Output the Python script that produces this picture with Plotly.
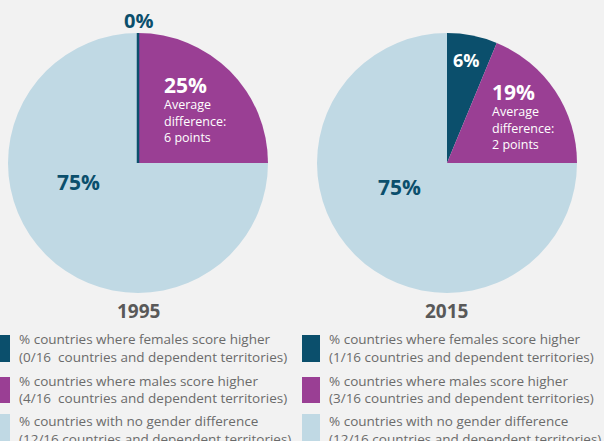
import plotly.graph_objects as go

W, H = 604, 441
categories = ["Females score higher", "Males score higher", "No gender difference"]
years = ["1995", "2015"]
counts_1995 = [0, 4, 12]
counts_2015 = [1, 3, 12]
total = 16
avg_diff = {"1995": "6 points", "2015": "2 points"}
legend_1995 = [
    ["% countries where females score higher", "(0/16  countries and dependent territories)"],
    ["% countries where males score higher", "(4/16  countries and dependent territories)"],
    ["% countries with no gender difference", "(12/16 countries and dependent territories)"],
]
legend_2015 = [
    ["% countries where females score higher", "(1/16 countries and dependent territories)"],
    ["% countries where males score higher", "(3/16 countries and dependent territories)"],
    ["% countries with no gender difference", "(12/16 countries and dependent territories)"],
]
colors = ["#0b4f6c", "#9a3f94", "#c0d9e4"]
BG = "#f2f2f2"
FONT = "Open Sans"

# pie geometry in pixels (center x, center y, radius)
pies = [(138, 163, 130), (447, 163, 130)]

def px(x):
    return x / W

def py(y):
    return 1 - y / H

fig = go.Figure()
for (cx, cy, r), vals in zip(pies, [counts_1995, counts_2015]):
    fig.add_trace(go.Pie(
        labels=categories, values=vals, sort=False, direction="clockwise",
        rotation=0, marker=dict(colors=colors, line=dict(width=0)),
        textinfo="none", hoverinfo="label+percent", showlegend=False,
        domain=dict(x=[px(cx - r), px(cx + r)], y=[py(cy + r), py(cy - r)]),
    ))

ann = []
shapes = []

def pct(v):
    return f"{round(100 * v / total)}%"

# 1995 zero slice drawn as a thin boundary line
cx, cy, r = pies[0]
if counts_1995[0] == 0:
    shapes.append(dict(type="line", xref="paper", yref="paper",
                       x0=px(cx), x1=px(cx), y0=py(cy), y1=py(cy - r),
                       line=dict(color=colors[0], width=2.5)))

def A(x, y, text, size, color, bold=False, xanchor="left", yanchor="middle"):
    t = f"<b>{text}</b>" if bold else text
    ann.append(dict(x=px(x), y=py(y), xref="paper", yref="paper", text=t,
                    showarrow=False, xanchor=xanchor, yanchor=yanchor, align="left",
                    font=dict(family=FONT, size=size, color=color)))

def block(x, y_mid, value, diff):
    txt = (f"<span style='font-size:21px'><b>{value}</b></span><br>"
           f"Average<br>difference:<br>{diff}")
    A(x, y_mid, txt, 12.5, "white")

# 1995 labels
A(138, 20, pct(counts_1995[0]), 20, colors[0], True, "center")
block(162, 108, pct(counts_1995[1]), avg_diff["1995"])
A(55, 182, pct(counts_1995[2]), 21, colors[0], True)
# 2015 labels
A(451, 60, pct(counts_2015[0]), 18, "white", True)
block(490, 116, pct(counts_2015[1]), avg_diff["2015"])
A(376, 187, pct(counts_2015[2]), 21, colors[0], True)

# year titles
A(138, 311, years[0], 19, "#595959", True, "center")
A(447, 311, years[1], 19, "#595959", True, "center")

# manual legends
rows = [(335, 362), (377, 403), (414, 441)]
line_y = [(339, 357), (380.5, 397.5), (421, 438.5)]
for x_sw, x_tx, texts in [(-8, 17, legend_1995), (302, 327, legend_2015)]:
    for (y0, y1), (ly1, ly2), c, t in zip(rows, line_y, colors, texts):
        shapes.append(dict(type="rect", xref="paper", yref="paper",
                           x0=px(x_sw), x1=px(x_sw + 18), y0=py(y1), y1=py(y0),
                           fillcolor=c, line=dict(width=0)))
        for ly, line in zip((ly1, ly2), t):
            A(x_tx, ly, line, 13.5, "#6b6b6b")

fig.update_layout(width=W, height=H, margin=dict(l=0, r=0, t=0, b=0),
                  paper_bgcolor=BG, plot_bgcolor=BG, annotations=ann, shapes=shapes,
                  showlegend=False)
fig.write_html(
    "out.html",
    config={"displayModeBar": False},
    post_script="document.body.style.margin='0';document.body.style.overflow='hidden';"
                "document.body.style.background='#f2f2f2';",
)
